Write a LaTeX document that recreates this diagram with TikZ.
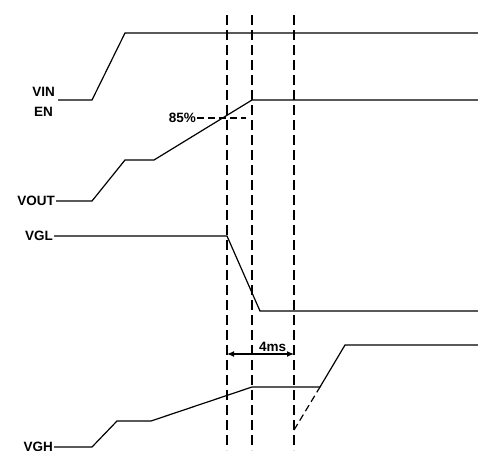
\documentclass[tikz,border=0pt]{standalone}
\usepackage{fontspec}
\setmainfont{Liberation Sans}
\usetikzlibrary{arrows.meta,positioning,calc}

\begin{document}
\begin{tikzpicture}[x=1pt, y=-1pt, >={Latex[length=7pt,width=6pt]},
  font=\bfseries\fontsize{13.5}{15}\selectfont,
  sig/.style={anchor=east, inner sep=1pt},
  wave/.style={line width=1.2pt},
  marker/.style={line width=1.2pt, dash pattern=on 10pt off 5pt},
  level/.style={line width=1.2pt, dash pattern=on 7pt off 4pt}]
\useasboundingbox (0,0) rectangle (478,450);

% signal names
\node[sig] (vin) at (56,92) {VIN};
\node[sig] (en) at (54,112) {EN};
\node[sig] (vout) at (56,201) {VOUT};
\node[sig] (vgl) at (54,236) {VGL};
\node[sig] (vgh) at (54,447) {VGH};

% time markers
\coordinate (t1) at (227,15);
\coordinate (t2) at (252,15);
\coordinate (t3) at (294,15);
\foreach \t in {t1,t2,t3}
  \draw[marker] (\t) -- (\t |- 0,450);

% waveforms
\draw[wave] (58,100) -- (92,100) -- (125,33) -- (478,33);
\draw[wave] (vout.east) -- (92,201) -- (125,160) -- (154,160) -- (252,100) -- (478,100);
\draw[wave] (vgl.east) -- (227,236) -- (260,311) -- (478,311);
\draw[wave] (vgh.east) -- (92,447) -- (117,421) -- (151,421) -- (252,387)
  -- (320,387) -- (345,345) -- (478,345);
\draw[level] (294,430) -- (320,387);

% 85% level
\node[anchor=east, inner sep=1pt] (pct) at (197,118) {85\%};
\draw[level] (pct.east) -- (246,118);

% 4ms delay
\coordinate (d1) at (227,354);
\coordinate (d2) at (294,354);
\draw[<->, line width=1.2pt] (d1) -- (d2);
\node[above=1pt of $(d1)!0.68!(d2)$, inner sep=1pt] (delay) {4ms};
\end{tikzpicture}
\end{document}
